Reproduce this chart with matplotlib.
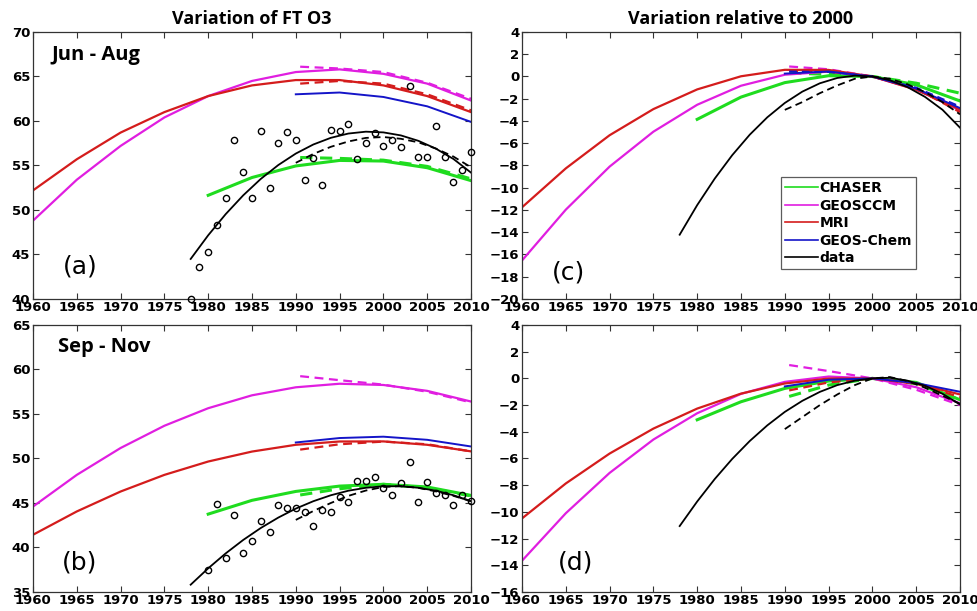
#!/usr/bin/env python3
"""
Free-tropospheric O3 trends: model quadratic fits vs. observed record,
absolute (left) and relative to year 2000 (right), for JJA and SON.
"""

import matplotlib.pyplot as plt

# sample years for the curves
YR_60 = list(range(1960, 2011, 5))
YR_80 = list(range(1980, 2011, 5))
YR_90 = list(range(1990, 2011, 5))
YR_DASH = [1990.5, 1995, 2000, 2005, 2010]
YR_FIT = list(range(1978, 2011, 2))
YR_FIT_DASH = list(range(1990, 2011, 2))
YR_OBS_JJA = list(range(1978, 2011))
YR_OBS_SON = list(range(1980, 2011))

# ---- Jun - Aug, absolute (ppb) ----
jja_chaser = [51.65, 53.65, 54.95, 55.57, 55.5, 54.75, 53.3]
jja_chaser_dash = [55.9, 55.8, 55.6, 54.9, 53.5]
jja_geosccm = [48.8, 53.4, 57.2, 60.4, 62.8, 64.5, 65.5, 65.8, 65.3, 64.2, 62.3]
jja_geosccm_dash = [66.1, 65.9, 65.5, 64.3, 62.5]
jja_mri = [52.2, 55.7, 58.7, 61.0, 62.8, 64.0, 64.6, 64.6, 64.0, 62.8, 61.0]
jja_mri_dash = [64.2, 64.5, 64.2, 63.0, 61.2]
jja_geoschem = [63.0, 63.2, 62.7, 61.65, 59.9]
jja_fit = [44.5, 47.16, 49.54, 51.65, 53.49, 55.05, 56.34, 57.36, 58.11,
           58.59, 58.8, 58.72, 58.38, 57.77, 56.89, 55.73, 54.2]
jja_fit_dash = [55.3, 56.3, 57.1, 57.7, 58.1, 58.2, 58.0, 57.6, 56.9, 56.0, 54.8]
jja_obs = [40.0, 43.55, 45.3, 48.3, 51.4, 57.85, 54.25, 51.4, 58.85, 52.5,
           57.55, 58.75, 57.85, 53.4, 55.8, 52.85, 58.95, 58.85, 59.7, 55.75,
           57.55, 58.6, 57.15, 57.85, 57.1, 63.95, 56.0, 56.0, 59.4, 56.0,
           53.1, 54.55, 56.55]

# ---- Sep - Nov, absolute (ppb) ----
son_chaser = [43.75, 45.3, 46.3, 46.9, 47.1, 46.8, 45.85]
son_chaser_dash = [45.9, 46.6, 47.1, 46.7, 45.8]
son_geosccm = [44.6, 48.16, 51.18, 53.68, 55.65, 57.1, 58.0, 58.4, 58.26, 57.6, 56.4]
son_geosccm_dash = [59.25, 58.8, 58.3, 57.5, 56.3]
son_mri = [41.43, 44.05, 46.29, 48.16, 49.66, 50.78, 51.54, 51.91, 51.92, 51.54, 50.8]
son_mri_dash = [51.0, 51.6, 51.9, 51.6, 50.8]
son_geoschem = [51.8, 52.3, 52.45, 52.1, 51.35]
son_fit = [35.82, 37.66, 39.34, 40.85, 42.19, 43.36, 44.37, 45.2, 45.87,
           46.38, 46.71, 46.88, 46.88, 46.71, 46.38, 45.87, 45.2]
son_fit_dash = [43.1, 44.1, 45.0, 45.8, 46.4, 46.8, 46.9, 46.7, 46.3, 45.8, 45.2]
son_obs = [37.5, 44.84, 38.8, 43.68, 39.37, 40.68, 42.93, 41.7, 44.72, 44.42,
           44.42, 43.97, 42.37, 44.16, 43.97, 45.73, 45.13, 47.42, 47.42, 47.9,
           46.67, 45.92, 47.23, 49.59, 45.06, 47.34, 46.11, 45.85, 44.72, 45.85,
           45.17]

# ---- Jun - Aug, relative to 2000 ----
jja_rel_chaser = [-3.85, -1.85, -0.55, 0.07, 0.0, -0.75, -2.2]
jja_rel_chaser_dash = [0.3, 0.2, 0.0, -0.6, -1.5]
jja_rel_geosccm = [-16.54, -11.97, -8.1, -4.96, -2.54, -0.83, 0.16, 0.44, 0.0, -1.16, -3.04]
jja_rel_geosccm_dash = [0.9, 0.65, 0.0, -1.1, -3.0]
jja_rel_mri = [-11.76, -8.26, -5.28, -2.93, -1.16, 0.02, 0.6, 0.59, 0.0, -1.19, -2.96]
jja_rel_mri_dash = [0.5, 0.45, 0.0, -1.1, -3.2]
jja_rel_geoschem = [0.26, 0.45, 0.0, -1.09, -2.84]
jja_rel_geoschem_dash = [0.45, 0.4, 0.0, -1.0, -2.7]
jja_rel_fit = [-14.22, -11.56, -9.18, -7.07, -5.23, -3.67, -2.38, -1.36, -0.61,
               -0.13, 0.08, 0.0, -0.34, -0.95, -1.83, -2.99, -4.6]
jja_rel_fit_dash = [-3.0, -2.3, -1.5, -0.8, -0.2, 0.0, -0.2, -0.7, -1.4, -2.3, -3.4]

# ---- Sep - Nov, relative to 2000 ----
son_rel_chaser = [-3.1, -1.75, -0.75, -0.2, 0.0, -0.3, -1.6]
son_rel_chaser_dash = [-1.35, -0.5, 0.0, -0.4, -1.6]
son_rel_geosccm = [-13.66, -10.1, -7.08, -4.58, -2.61, -1.16, -0.26, 0.14, 0.0, -0.66, -1.86]
son_rel_geosccm_dash = [1.0, 0.55, 0.0, -0.85, -2.0]
son_rel_mri = [-10.49, -7.87, -5.63, -3.76, -2.26, -1.14, -0.38, -0.01, 0.0, -0.38, -1.2]
son_rel_mri_dash = [-0.9, -0.3, 0.0, -0.4, -1.4]
son_rel_geoschem = [-0.6, -0.1, 0.0, -0.35, -1.0]
son_rel_fit = [-11.06, -9.22, -7.54, -6.03, -4.69, -3.52, -2.51, -1.68, -1.01,
               -0.5, -0.17, 0.0, 0.05, -0.17, -0.55, -1.15, -1.95]
son_rel_fit_dash = [-3.8, -2.9, -2.0, -1.2, -0.5, 0.0, 0.1, -0.2, -0.7, -1.3, -1.9]

GREEN = "#1fdc1f"
MAGENTA = "#e01ee0"
RED = "#d41c1c"
BLUE = "#1414c8"
BLACK = "#000000"

TICK_FONT = dict(family="DejaVu Sans", weight="bold", size=9.5)
DASH = (0, (4, 2.5))


def style_axes(ax, ylim, yticks):
    ax.set_xlim(1960, 2010)
    ax.set_ylim(*ylim)
    ax.set_xticks(range(1960, 2011, 5))
    ax.set_yticks(yticks)
    ax.tick_params(direction="in", top=True, right=True, length=4, width=0.8,
                   color="#333333")
    ax.tick_params(axis="x", pad=1.5)
    ax.tick_params(axis="y", pad=2)
    for lab in ax.get_xticklabels() + ax.get_yticklabels():
        lab.set_fontproperties(TICK_FONT)
    for sp in ax.spines.values():
        sp.set_linewidth(0.9)
        sp.set_color("#333333")


def draw_models(ax, runs):
    for x, y, color, lw, ls in runs:
        ax.plot(x, y, color=color, lw=lw, linestyle=ls)


def main():
    fig = plt.figure(figsize=(9.78, 6.11), dpi=100)
    ax_a = fig.add_axes([0.03374, 0.51064, 0.44785, 0.43699])
    ax_b = fig.add_axes([0.03374, 0.03110, 0.44785, 0.43699])
    ax_c = fig.add_axes([0.53374, 0.51064, 0.44785, 0.43699])
    ax_d = fig.add_axes([0.53374, 0.03110, 0.44785, 0.43699])

    # (a) JJA absolute
    draw_models(ax_a, [
        (YR_80, jja_chaser, GREEN, 2.2, "-"),
        (YR_DASH, jja_chaser_dash, GREEN, 2.2, DASH),
        (YR_60, jja_geosccm, MAGENTA, 1.6, "-"),
        (YR_DASH, jja_geosccm_dash, MAGENTA, 1.6, DASH),
        (YR_60, jja_mri, RED, 1.6, "-"),
        (YR_DASH, jja_mri_dash, RED, 1.6, DASH),
        (YR_90, jja_geoschem, BLUE, 1.4, "-"),
        (YR_FIT, jja_fit, BLACK, 1.3, "-"),
        (YR_FIT_DASH, jja_fit_dash, BLACK, 1.3, DASH),
    ])
    ax_a.plot(YR_OBS_JJA, jja_obs, "o", mfc="none", mec=BLACK, ms=4.5, mew=1.0,
              clip_on=False, zorder=5)

    # (b) SON absolute
    draw_models(ax_b, [
        (YR_80, son_chaser, GREEN, 2.2, "-"),
        (YR_DASH, son_chaser_dash, GREEN, 2.2, DASH),
        (YR_60, son_geosccm, MAGENTA, 1.6, "-"),
        (YR_DASH, son_geosccm_dash, MAGENTA, 1.6, DASH),
        (YR_60, son_mri, RED, 1.6, "-"),
        (YR_DASH, son_mri_dash, RED, 1.6, DASH),
        (YR_90, son_geoschem, BLUE, 1.4, "-"),
        (YR_FIT, son_fit, BLACK, 1.3, "-"),
        (YR_FIT_DASH, son_fit_dash, BLACK, 1.3, DASH),
    ])
    ax_b.plot(YR_OBS_SON, son_obs, "o", mfc="none", mec=BLACK, ms=4.5, mew=1.0,
              clip_on=False, zorder=5)

    # (c) JJA relative to 2000
    draw_models(ax_c, [
        (YR_80, jja_rel_chaser, GREEN, 2.2, "-"),
        (YR_DASH, jja_rel_chaser_dash, GREEN, 2.2, DASH),
        (YR_60, jja_rel_geosccm, MAGENTA, 1.6, "-"),
        (YR_DASH, jja_rel_geosccm_dash, MAGENTA, 1.6, DASH),
        (YR_60, jja_rel_mri, RED, 1.6, "-"),
        (YR_DASH, jja_rel_mri_dash, RED, 1.6, DASH),
        (YR_90, jja_rel_geoschem, BLUE, 1.4, "-"),
        (YR_DASH, jja_rel_geoschem_dash, BLUE, 1.4, DASH),
        (YR_FIT, jja_rel_fit, BLACK, 1.3, "-"),
        (YR_FIT_DASH, jja_rel_fit_dash, BLACK, 1.3, DASH),
    ])

    # (d) SON relative to 2000
    draw_models(ax_d, [
        (YR_80, son_rel_chaser, GREEN, 2.2, "-"),
        (YR_DASH, son_rel_chaser_dash, GREEN, 2.2, DASH),
        (YR_60, son_rel_geosccm, MAGENTA, 1.6, "-"),
        (YR_DASH, son_rel_geosccm_dash, MAGENTA, 1.6, DASH),
        (YR_60, son_rel_mri, RED, 1.6, "-"),
        (YR_DASH, son_rel_mri_dash, RED, 1.6, DASH),
        (YR_90, son_rel_geoschem, BLUE, 1.4, "-"),
        (YR_FIT, son_rel_fit, BLACK, 1.3, "-"),
        (YR_FIT_DASH, son_rel_fit_dash, BLACK, 1.3, DASH),
    ])

    style_axes(ax_a, (40, 70), range(40, 71, 5))
    style_axes(ax_b, (35, 65), range(35, 66, 5))
    style_axes(ax_c, (-20, 4), range(-20, 5, 2))
    style_axes(ax_d, (-16, 4), range(-16, 5, 2))

    title_font = dict(family="Open Sans", weight="bold", size=13)
    ax_a.set_title("Variation of FT O3", pad=6, **title_font)
    ax_c.set_title("Variation relative to 2000", pad=6, **title_font)

    season_font = dict(family="Open Sans", weight="bold", size=14.5)
    ax_a.text(0.043, 0.914, "Jun - Aug", transform=ax_a.transAxes, va="center", **season_font)
    ax_b.text(0.057, 0.918, "Sep - Nov", transform=ax_b.transAxes, va="center", **season_font)

    label_font = dict(family="DejaVu Sans", size=18)
    for ax, lab, x, y in [(ax_a, "(a)", 0.068, 0.12), (ax_b, "(b)", 0.066, 0.112),
                          (ax_c, "(c)", 0.068, 0.101), (ax_d, "(d)", 0.082, 0.112)]:
        ax.text(x, y, lab, transform=ax.transAxes, va="center", **label_font)

    # legend entries for panel (c)
    names = ["CHASER", "GEOSCCM", "MRI", "GEOS-Chem", "data"]
    colors = [GREEN, MAGENTA, RED, BLUE, BLACK]
    handles = [plt.Line2D([], [], color=c, lw=1.2) for c in colors]
    leg = ax_c.legend(handles, names, loc="upper left", bbox_to_anchor=(0.591, 0.457),
                      borderaxespad=0, frameon=True, fancybox=False, handlelength=2.4,
                      handletextpad=0.1, labelspacing=0.25, borderpad=0.3,
                      prop=dict(family="DejaVu Sans", weight="bold", size=10))
    leg.get_frame().set_edgecolor("#333333")
    leg.get_frame().set_linewidth(0.9)

    fig.savefig("out.png", dpi=100)
    plt.close(fig)


if __name__ == "__main__":
    main()
